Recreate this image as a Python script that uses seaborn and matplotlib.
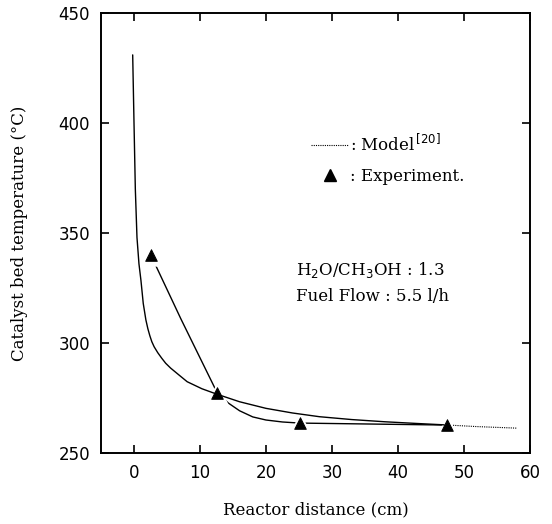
import numpy as np
import pandas as pd
import matplotlib
matplotlib.use("Agg")
import matplotlib.pyplot as plt
import seaborn as sns
from matplotlib.lines import Line2D

# model curve
model_x = [-0.2, 0.0, 0.2, 0.45, 0.75, 1.05, 1.4, 1.8, 2.1, 2.4, 2.7, 3.05, 3.6, 4.2, 4.8, 5.55,
           6.8, 8.06, 10.3, 12.6, 16.0, 20.0, 24.0, 28.1, 33.0, 38.0, 43.0, 47.0]
model_y = [431, 400, 370, 348, 336, 328.5, 318, 310.5, 306.5, 303.3, 300.6, 298.3, 295.6, 293.1, 290.8, 288.6,
           285.5, 282.4, 279.2, 276.7, 273.3, 270.3, 268.2, 266.5, 265.2, 264.2, 263.4, 262.8]
# model extension (dotted)
ext_x = [47.0, 52.0, 58.0]
ext_y = [262.8, 262.0, 261.3]

# experiment points
exp_x = [2.55, 12.6, 25.1, 47.5]
exp_y = [340, 277.4, 263.6, 262.7]

# line through the experiment points
fit_x = [2.55, 7.1, 12.6, 14.3, 16.0, 18.0, 20.0, 22.5, 25.1, 47.5]
fit_y = [340, 311, 277.4, 272.7, 269.2, 266.4, 265.0, 264.1, 263.6, 262.7]

sns.set_style("ticks")
plt.rcParams["font.family"] = ["DejaVu Serif"]

fig = plt.figure(figsize=(5.52, 5.24), dpi=100)
ax = fig.add_axes([0.183, 0.1355, 0.777, 0.8395])

sns.lineplot(x=model_x, y=model_y, ax=ax, color="black", lw=1.0, sort=False, estimator=None, zorder=3.5)
sns.lineplot(x=ext_x, y=ext_y, ax=ax, color="black", lw=0.8, ls=(0, (1, 1)), sort=False, estimator=None)
sns.lineplot(x=fit_x, y=fit_y, ax=ax, color="black", lw=1.0, sort=False, estimator=None)
# white halo around markers to leave gaps in the line
ax.scatter(exp_x, exp_y, marker="^", s=260, color="white", zorder=3, linewidths=0)
sns.scatterplot(x=exp_x, y=exp_y, ax=ax, marker="^", s=70, color="black", edgecolor="black", zorder=4)

ax.set_xlim(-5, 60)
ax.set_ylim(250, 450)
ax.set_xticks([0, 10, 20, 30, 40, 50, 60])
ax.set_yticks([250, 300, 350, 400, 450])
ax.tick_params(direction="in", top=True, right=True, length=6, width=1.2,
               labelsize=12, pad=8, color="black", labelcolor="black")
for lab in ax.get_xticklabels() + ax.get_yticklabels():
    lab.set_family("DejaVu Sans")
for s in ax.spines.values():
    s.set_linewidth(1.4)
    s.set_color("black")

ax.set_xlabel("Reactor distance (cm)", fontsize=12, labelpad=14, color="black")
ax.set_ylabel("Catalyst bed temperature (\u00b0C)", fontsize=12, labelpad=22, color="black")

handles = [
    Line2D([], [], color="black", lw=0.8, ls=(0, (1, 1))),
    Line2D([], [], color="black", marker="^", ms=8, ls="none"),
]
labels = [": Model$^{\\,[20]}$", ": Experiment."]
leg = ax.legend(handles, labels, loc="upper left", bbox_to_anchor=(0.455, 0.76),
                frameon=False, fontsize=12, handlelength=2.2, handletextpad=0.1,
                labelspacing=0.8)
for t in leg.get_texts():
    t.set_color("black")

ax.text(0.455, 0.405, "H$_2$O/CH$_3$OH : 1.3", transform=ax.transAxes, fontsize=12, color="black")
ax.text(0.455, 0.345, "Fuel Flow : 5.5 l/h", transform=ax.transAxes, fontsize=12, color="black")

fig.savefig("out.png", dpi=100)
